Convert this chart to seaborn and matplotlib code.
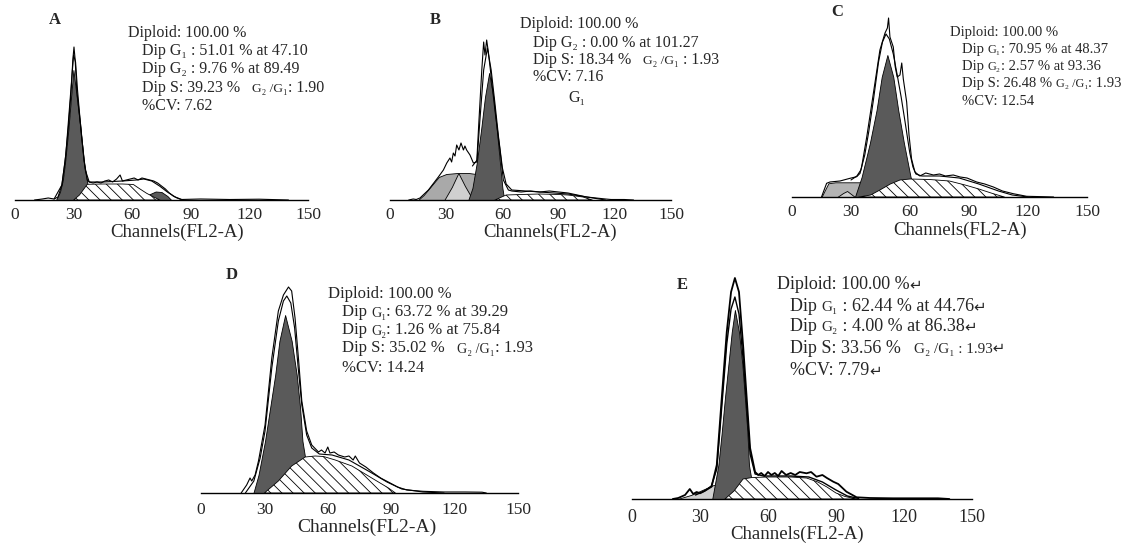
import re

import matplotlib

matplotlib.use("Agg")
import matplotlib.pyplot as plt
import matplotlib.ticker as ticker
import seaborn as sns

# ---- histogram readings: channel positions and heights (display counts) ----
A_RAW_CH = [10, 14, 17, 20, 22, 24, 25.6, 27.3, 28.7, 29.6, 30.2, 30.8, 31.6, 33.6, 35.3, 37, 38, 40, 42, 44,
            46, 48, 50, 52, 53.8, 55, 57, 59, 61, 63, 65, 67, 69, 71, 73, 75, 77, 79, 81, 83, 85, 95, 110, 125, 140]
A_RAW = [0, 1, 2, 1, 3, 15, 38, 72, 108, 140, 153, 140, 110, 75, 40, 20, 18, 17, 18, 17,
         19, 20, 18, 21, 25, 19, 20, 21, 22, 20, 22, 21, 20, 19, 17, 14, 11, 7, 4, 2, 0.5, 1, 0.5, 0.8, 0]
A_FIT_CH = [20, 24, 26, 28, 30, 31, 32, 34, 36, 38, 45, 55, 62, 66, 70, 74, 78, 82, 86]
A_FIT = [1, 15, 45, 95, 145, 138, 110, 65, 30, 18, 18, 19, 20, 21, 19, 14, 8, 3, 0]
A_G1_CH = [21, 23, 24.5, 25.6, 27.3, 28.7, 29.9, 31.6, 33.6, 35.3, 37, 38.5, 40]
A_G1 = [0, 8, 20, 37, 70, 103, 130, 103, 70, 37, 17, 6, 0]
A_S_CH = [30, 33, 37, 45, 55, 60.6, 64, 67.4, 71, 74.2]
A_S = [0, 5, 15.7, 16, 16, 15.5, 11, 6.7, 3, 0]
A_G2_CH = [64, 68, 72, 75, 78, 80]
A_G2 = [0, 5, 8.5, 8, 4, 0]

B_RAW_CH = [10, 12.4, 14, 16, 20.5, 25.8, 28.5, 30.3, 32, 32.9, 33.8, 34.7, 35.6, 36.8, 37.9, 39.2, 40, 40.9, 42.7, 44.5,
            46.3, 47.5, 49, 50, 50.7, 51.6, 52.5, 53.9, 56, 58.7, 60.5, 63.2, 65, 70, 75, 80, 85, 90, 95, 100,
            105, 110, 115, 118, 125, 130]
B_RAW = [0, 1, 0.5, 2, 10, 23, 30, 37, 42, 38, 47, 44, 55, 50, 57, 50, 54, 50, 45, 37,
         38, 80, 130, 158, 145, 160, 148, 125, 90, 50, 20, 10, 9, 8, 9, 8, 9, 8, 7, 5,
         3, 2, 1, 0.5, 0.5, 0]
B_FIT_CH = [44, 46.5, 48, 50, 52, 54, 56, 58, 60, 62, 65, 80, 95, 105, 115]
B_FIT = [34, 40, 80, 130, 152, 130, 97, 62, 32, 16, 10, 8, 6, 3, 0]
B_DEB1_CH = [15, 18, 22, 26, 30, 36, 42, 46, 50, 53, 56]
B_DEB1 = [0, 5, 14, 23, 26, 27, 27, 26, 15, 5, 0]
B_DEB2_CH = [29, 33, 36.5, 40, 44, 45]
B_DEB2 = [0, 13, 27, 14, 1, 0]
B_G1_CH = [41.8, 44, 46.3, 48.6, 50.7, 52.9, 55.2, 57, 58.7, 60, 61]
B_G1 = [0, 12, 37, 70, 103, 127, 103, 70, 37, 12, 0]
B_S_CH = [56, 62, 70, 80, 90, 95, 103, 108]
B_S = [0, 5, 5.5, 6, 5.5, 5, 3, 0]

C_RAW_CH = [15, 17.6, 19.3, 24.4, 29.5, 32.9, 34.6, 35.4, 38, 41.4, 44.7, 47.3, 48.5, 49.1, 49.8, 51.5, 52.5, 53.5,
            54.9, 55.8, 56.6, 58.3, 59.5, 60.8, 62.5, 65, 68, 71.9, 75, 78, 82, 85.5, 89, 93.9, 98, 102.4, 107,
            112.5, 119.3, 127.8, 133]
C_RAW = [0, 13.7, 15, 16, 18.7, 20.3, 23.7, 30, 60, 104, 147, 164, 169, 179, 160, 150, 130, 120,
         122, 134, 118, 95, 62, 38, 25, 21, 24, 22, 23, 21, 22, 20, 19, 15, 13, 10, 6,
         3.3, 0.7, 0.3, 0]
C_FIT_CH = [30, 33, 35, 37, 39, 41.4, 44, 46, 47.8, 49.5, 51.5, 53.5, 55.5, 57.5, 59.9, 61.5, 63, 66, 75, 85, 95,
            105, 112, 120]
C_FIT = [17, 21, 27, 42, 65, 97, 135, 155, 163, 158, 143, 122, 100, 75, 44, 30, 23, 21, 21, 19, 13, 6, 2, 0]
C_DEB_CH = [15, 16.5, 18.5, 22, 30, 35.4, 38, 40, 42]
C_DEB = [0, 6, 13.7, 14.7, 14.7, 14.7, 10, 4, 0]
C_DEB2_CH = [23, 26, 28, 30, 32]
C_DEB2 = [0, 4, 6, 3, 0]
C_G1_CH = [32, 35.4, 39.6, 43, 45.6, 48.5, 51.5, 54, 56.9, 60.3, 62, 64]
C_G1 = [0, 20, 54, 87, 120, 142, 120, 87, 54, 20, 8, 0]
C_S_CH = [34, 40, 44.7, 50, 54.9, 60, 70, 80, 88, 95, 102, 108]
C_S = [0, 2, 7, 13, 17, 18, 17.5, 16, 12, 8, 3.5, 0]

D_RAW_CH = [19, 21.6, 23.2, 24, 25.6, 27.2, 30.3, 33.5, 36.6, 39, 41.4, 42.9, 44.5, 46.1, 47.7, 50, 52.4, 55.6, 57, 58.7,
            60, 61, 63, 65, 68, 70, 72, 73, 75, 78, 81.6, 85, 89.5, 93, 97.4, 105, 115, 125, 133, 135]
D_RAW = [0, 8, 15, 12, 18, 32, 68, 135, 182, 198, 206, 202, 175, 135, 92, 62, 48, 41, 43, 40,
         46, 40, 41, 38, 36, 37, 33, 37, 30, 26, 20, 15, 10, 6, 3, 1.7, 1, 1, 0.8, 0]
D_FIT_CH = [21, 25, 28, 30.3, 33.5, 36.6, 39, 40.6, 42.5, 44.3, 46, 47.7, 50, 52.4, 56, 62, 70, 80, 88, 95, 105, 115]
D_FIT = [0, 12, 35, 62, 125, 172, 192, 197, 190, 165, 125, 88, 58, 45, 39, 38, 33, 21, 11, 4, 1, 0]
D_G1_CH = [24.8, 27.2, 30.3, 32.7, 35.1, 37.1, 39.8, 42.9, 45.3, 46.9, 48, 49.3, 51, 53]
D_G1 = [0, 18, 52, 85, 118, 152, 178, 152, 118, 85, 52, 35, 15, 0]
D_S_CH = [30, 36.6, 42.9, 49.3, 54, 58, 63.5, 71.4, 80.8, 88.7, 92]
D_S = [0, 12, 27, 36, 37, 36.5, 33, 27, 15, 5, 0]

E_RAW_CH = [18, 20.4, 23.4, 24.8, 25.5, 27, 28.5, 30, 32, 35.1, 37.4, 39.6, 41.8, 43.7, 45.4, 47.2, 49.1, 50.6, 52.1, 54.3,
            55.7, 57, 58.5, 60, 61.5, 63, 64.5, 66, 68, 70, 72, 74, 77, 79, 81.4, 84, 86, 88.8, 91, 94.6,
            99.1, 105, 115, 125, 135, 140]
E_RAW = [0, 1, 4, 8, 10, 5, 7, 5.7, 8, 12.3, 34, 101, 167, 207, 221, 207, 151, 101, 51, 27,
         24, 26, 23, 27, 24, 26, 23, 28, 24, 26, 24, 27, 25.7, 27, 22.3, 24, 21, 17.3, 15, 7.3,
         1.7, 1, 0.7, 0.7, 0.7, 0]
E_FIT_CH = [28, 32, 35, 37.4, 39.6, 41.8, 43.7, 45.4, 47.2, 49.1, 50.6, 52.1, 54.3, 58, 70, 78, 84, 90, 95, 100]
E_FIT = [4, 8, 13, 30, 92, 155, 190, 202, 185, 138, 92, 45, 25, 23, 23, 22, 17, 9, 3, 0.5]
E_DEB_CH = [20, 26, 32, 36, 40, 44, 46]
E_DEB = [0, 4, 10, 14, 12, 5, 0]
E_G1_CH = [35.4, 38.1, 39.6, 41, 42.5, 44, 45.4, 47.2, 48.7, 49.8, 50.9, 51.6, 52.5, 54, 56]
E_G1 = [0, 34, 67, 101, 134, 167, 189, 167, 134, 101, 67, 34, 22, 8, 0]
E_S_CH = [41, 45, 49, 53, 60, 70, 77, 82, 86, 90, 94, 99]
E_S = [0, 8, 20, 21.5, 22, 22, 21, 17, 12, 6, 2.5, 0]

# ---- annotation texts ({...} = set in the smaller font) ----
A_TEXT = ["Diploid: 100.00 %", "Dip G\u2081 : 51.01 % at 47.10", "Dip G\u2082 : 9.76 % at 89.49",
          "Dip S: 39.23 %   {G\u2082 /G\u2081}: 1.90", "%CV: 7.62"]
B_TEXT = ["Diploid: 100.00 %", "Dip G\u2082 : 0.00 % at 101.27",
          "Dip S: 18.34 %   {G\u2082 /G\u2081} : 1.93", "%CV: 7.16"]
C_TEXT = ["Diploid: 100.00 %", "Dip {G\u2081}: 70.95 % at 48.37", "Dip {G\u2082}: 2.57 % at 93.36",
          "Dip S: 26.48 % {G\u2082 /G\u2081}: 1.93", "%CV: 12.54"]
D_TEXT = ["Diploid: 100.00 %", "Dip {G\u2081}: 63.72 % at 39.29", "Dip {G\u2082}: 1.26 % at 75.84",
          "Dip S: 35.02 %   {G\u2082 /G\u2081}: 1.93", "%CV: 14.24"]
E_TEXT = ["Diploid: 100.00 %{\u21b5}", "Dip {G\u2081} : 62.44 % at 44.76{\u21b5}",
          "Dip {G\u2082} : 4.00 % at 86.38{\u21b5}", "Dip S: 33.56 %   {G\u2082 /G\u2081 : 1.93\u21b5}", "%CV: 7.79{\u21b5}"]
TICKS = [0, 30, 60, 90, 120, 150]
XLABEL = "Channels(FL2-A)"

W, H = 1147, 543
DARK = "#5a5a5a"
MID = "#a9a9a9"
LIGHT = "#d0d0d0"
HATCH = "\\\\\\"

sns.set_style("white")
plt.rcParams["font.family"] = ["Liberation Serif", "DejaVu Sans"]
plt.rcParams["hatch.linewidth"] = 0.6


def fx(px):
    return px / W


def fy(py):
    return 1 - py / H


def make_axes(fig, x0, x150, base, top):
    ax = fig.add_axes([fx(x0), fy(base), (x150 - x0) / W, (base - top) / H])
    ax.set_xlim(0, 150)
    ax.set_ylim(0, base - top)
    ax.set_facecolor("none")
    ax.set_yticks([])
    sns.despine(ax=ax, left=True)
    ax.spines["bottom"].set_linewidth(1.0)
    ax.spines["bottom"].set_color("black")
    ax.xaxis.set_major_locator(ticker.FixedLocator(TICKS))
    ax.xaxis.set_minor_locator(ticker.MultipleLocator(5))
    ax.tick_params(axis="x", which="major", direction="inout", length=7, width=1, color="black")
    ax.tick_params(axis="x", which="minor", direction="inout", length=4, width=0.8, color="black")
    return ax


def fill(ax, ch, h, color, hatch=None, z=1):
    ax.fill_between(ch, 0, h, facecolor=color, edgecolor="black", linewidth=0.6,
                    hatch=hatch, zorder=z)


def outline(ax, ch, h, lw=0.8):
    sns.lineplot(x=ch, y=h, ax=ax, color="black", linewidth=lw, zorder=4)


def text_width(fig, renderer, s, size):
    t = fig.text(0, 0, "|" + s + "|", fontsize=size)
    bar = fig.text(0, 0, "||", fontsize=size)
    w = t.get_window_extent(renderer).width - bar.get_window_extent(renderer).width
    t.remove()
    bar.remove()
    return w


def rich_line(fig, renderer, x, y_center, line, size):
    baseline = y_center + 0.33 * size * 100 / 72
    for part in re.split(r"(\{[^}]*\})", line):
        if not part:
            continue
        small = part.startswith("{")
        s = part.strip("{}")
        sz = size * 0.84 if small else size
        fig.text(fx(x), fy(baseline), s, fontsize=sz, ha="left", va="baseline")
        x += text_width(fig, renderer, s, sz)


def finish(fig, ax, x0, x150, base, top, tick_size, tick_pad, xl_pos, xl_size,
           letter, letter_pos, lines, tx, indent, ys, tsize):
    renderer = fig.canvas.get_renderer()
    ax.set_xticks(TICKS)
    ax.set_xticklabels([str(t) for t in TICKS], fontsize=tick_size)
    ax.tick_params(axis="x", which="major", pad=tick_pad)
    ax.set_xlabel(XLABEL, fontsize=xl_size)
    ax.xaxis.set_label_coords((xl_pos[0] - x0) / (x150 - x0), -(xl_pos[1] - base) / (base - top))
    ax.xaxis.label.set_verticalalignment("center")
    fig.text(fx(letter_pos[0]), fy(letter_pos[1]), letter, fontsize=12, fontweight="bold",
             ha="center", va="center")
    for i, (s, y) in enumerate(zip(lines, ys)):
        rich_line(fig, renderer, tx if i == 0 else indent, y, s, tsize)


fig = plt.figure(figsize=(W / 100, H / 100), dpi=100)

# panel A
ax = make_axes(fig, 15, 308, 200, 20)
fill(ax, A_G2_CH, A_G2, DARK)
fill(ax, A_G1_CH, A_G1, DARK)
fill(ax, A_S_CH, A_S, "white", hatch=HATCH, z=2)
outline(ax, A_FIT_CH, A_FIT)
outline(ax, A_RAW_CH, A_RAW)
finish(fig, ax, 15, 308, 200, 20, 12.5, 1.6, (177, 232), 13.5, "A", (55, 20),
       A_TEXT, 128, 142, [32, 50, 68, 87, 105], 11.5)

# panel B
ax = make_axes(fig, 390, 671, 200, 20)
fill(ax, B_DEB1_CH, B_DEB1, MID)
fill(ax, B_DEB2_CH, B_DEB2, LIGHT)
fill(ax, B_G1_CH, B_G1, DARK)
fill(ax, B_S_CH, B_S, "white", hatch=HATCH, z=2)
outline(ax, B_FIT_CH, B_FIT)
outline(ax, B_RAW_CH, B_RAW)
finish(fig, ax, 390, 671, 200, 20, 12.5, 1.8, (550, 232), 13.5, "B", (435, 20),
       B_TEXT, 520, 533, [23, 42, 59, 76], 11.5)
fig.text(fx(568), fy(98), "G\u2081", fontsize=11.5, ha="left", va="center")

# panel C
ax = make_axes(fig, 792, 1087, 197, 5)
fill(ax, C_DEB_CH, C_DEB, "#b3b3b3")
fill(ax, C_DEB2_CH, C_DEB2, LIGHT)
fill(ax, C_G1_CH, C_G1, DARK)
fill(ax, C_S_CH, C_S, "white", hatch=HATCH, z=2)
outline(ax, C_FIT_CH, C_FIT)
outline(ax, C_RAW_CH, C_RAW)
finish(fig, ax, 792, 1087, 197, 5, 12.5, 1.6, (960, 230), 13.5, "C", (837, 12),
       C_TEXT, 950, 962, [31, 48, 65, 82, 100], 10.5)

# panel D
ax = make_axes(fig, 201, 518, 493, 268)
fill(ax, D_G1_CH, D_G1, DARK)
fill(ax, D_S_CH, D_S, "white", hatch=HATCH, z=2)
outline(ax, D_FIT_CH, D_FIT)
outline(ax, D_RAW_CH, D_RAW)
finish(fig, ax, 201, 518, 493, 268, 12.5, 3.2, (367, 527), 14, "D", (232, 275),
       D_TEXT, 328, 342, [293, 311, 329, 347, 366], 12)

# panel E
ax = make_axes(fig, 632, 972, 499, 262)
fill(ax, E_DEB_CH, E_DEB, LIGHT)
fill(ax, E_G1_CH, E_G1, DARK)
fill(ax, E_S_CH, E_S, "white", hatch=HATCH, z=2)
outline(ax, E_FIT_CH, E_FIT, lw=1.0)
outline(ax, E_RAW_CH, E_RAW, lw=1.3)
finish(fig, ax, 632, 972, 499, 262, 13, 4.0, (797, 534), 13.5, "E", (682, 285),
       E_TEXT, 777, 790, [283, 305, 325, 347, 369], 13)

fig.savefig("out.png", dpi=100)
